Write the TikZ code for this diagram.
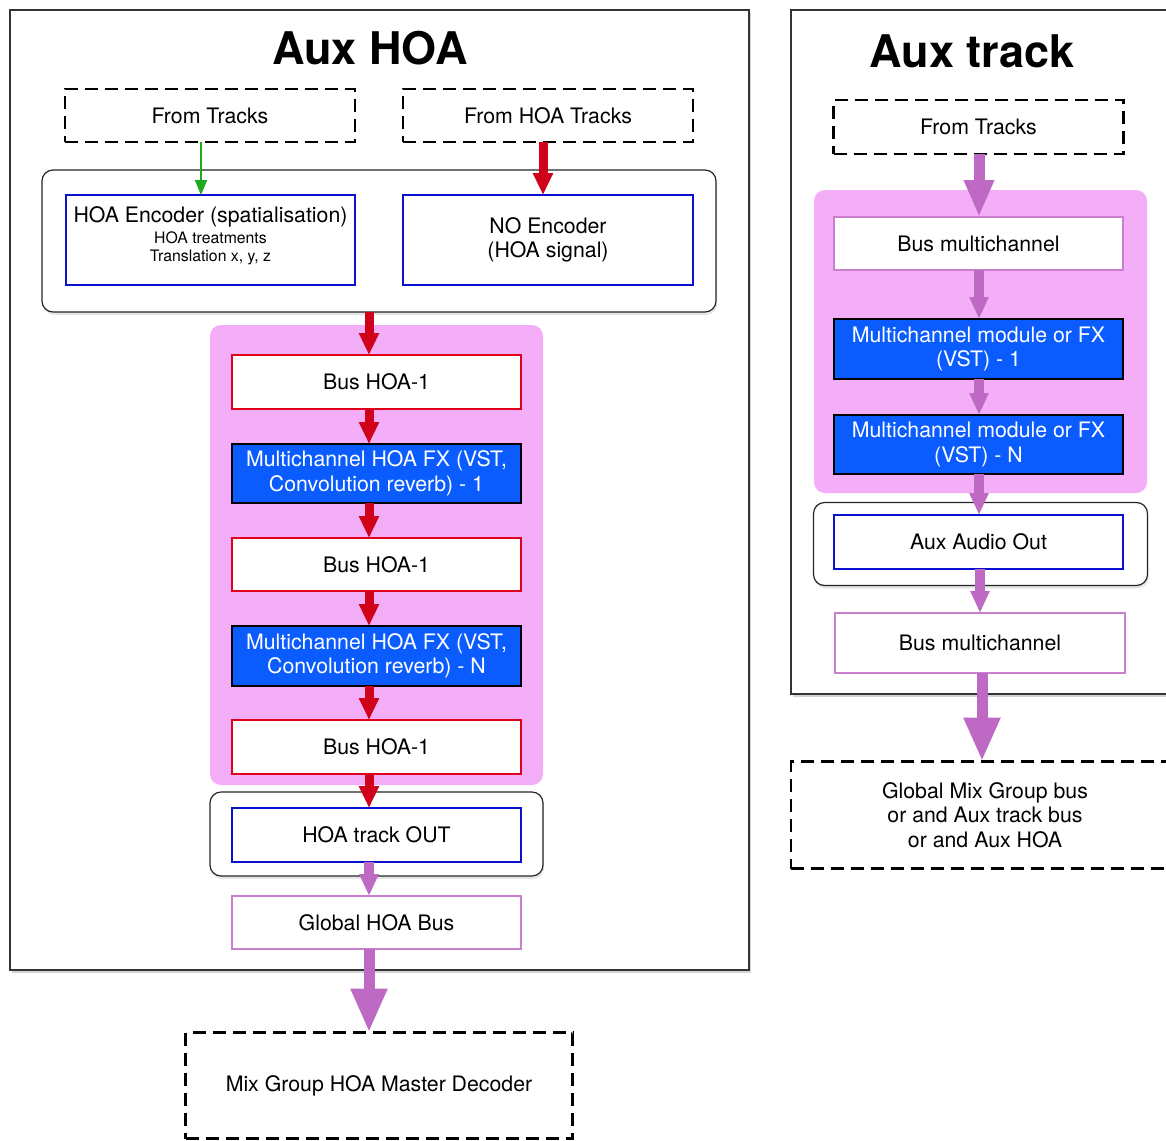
\documentclass[tikz,border=0pt]{standalone}
\usepackage{fontspec}
\setmainfont{TeX Gyre Heros}
\usetikzlibrary{arrows.meta,shadows}
\definecolor{pinkbg}{HTML}{F4AEF8}
\definecolor{fxblue}{HTML}{0A5CFF}
\definecolor{edgeblue}{HTML}{0A10D0}
\definecolor{busred}{HTML}{E0001B}
\definecolor{arrred}{HTML}{D0021B}
\definecolor{vbord}{HTML}{C880CF}
\definecolor{arrpurple}{HTML}{BE6AC4}
\definecolor{arrgreen}{HTML}{1EAA1E}
\begin{document}
\begin{tikzpicture}[x=1pt,y=-1pt,
  basetext/.style={font=\fontsize{21.3}{24.5}\selectfont, align=center, inner sep=0pt, outer sep=0pt},
  panel/.style={draw=black!80, line width=1.5pt, fill=white, inner sep=0pt, outer sep=0pt,
    drop shadow={shadow xshift=2pt, shadow yshift=-3pt, opacity=0.35}},
  grp/.style={draw=black!85, line width=1.2pt, fill=white, rounded corners=11pt, inner sep=0pt, outer sep=0pt,
    drop shadow={shadow xshift=1pt, shadow yshift=-3pt, opacity=0.2}},
  bgpink/.style={fill=pinkbg, rounded corners=11pt, inner sep=0pt, outer sep=0pt},
  dashbox/.style={basetext, draw=black, line width=2.5pt, dash pattern=on 13pt off 7pt},
  outbox/.style={basetext, draw=edgeblue, line width=2pt, fill=white},
  busbox/.style={basetext, draw=busred, line width=2pt, fill=white},
  fxbox/.style={basetext, draw=black, line width=2.2pt, fill=fxblue, text=white},
  vbox/.style={basetext, draw=vbord, line width=2.5pt, fill=white},
  titletext/.style={font=\fontsize{45}{50}\selectfont\bfseries, inner sep=0pt, anchor=base},
  redarr/.style={draw=arrred, line width=9pt, -{Triangle[width=19pt,length=22pt]}},
  greenarr/.style={draw=arrgreen, line width=2pt, -{Triangle[width=12pt,length=15pt]}},
  parr/.style={draw=arrpurple, line width=10pt, -{Triangle[width=18pt,length=22pt]}},
  bigparr/.style={draw=arrpurple, line width=11pt, -{Triangle[width=34pt,length=44pt]}},
  midparr/.style={draw=arrpurple, line width=11pt, -{Triangle[width=28pt,length=37pt]}}
]
\useasboundingbox (0,0) rectangle (1166,1140);
\clip (0,0) rectangle (1166,1140);

% ---------------- Left panel: Aux HOA ----------------
\node[panel, minimum width=739pt, minimum height=960pt] (lpanel) at (379.5,490) {};
\node[titletext] (ltitle) at (370,64) {Aux HOA};

\node[dashbox, minimum width=290pt, minimum height=53pt] (ft1) at (210,115.5) {From Tracks};
\node[dashbox, minimum width=290pt, minimum height=53pt] (ft2) at (548,115.5) {From HOA Tracks};

\node[grp, minimum width=674pt, minimum height=142pt] (c1) at (379,241) {};
\node[outbox, minimum width=289pt, minimum height=90pt] (enc) at (210.5,240)
  {HOA Encoder (spatialisation)\\[-3.5pt]{\fontsize{15.8}{19}\selectfont HOA treatments}\\[-6.5pt]{\fontsize{15.8}{19}\selectfont Translation x, y, z\rule[-12.5pt]{0pt}{1pt}}};
\node[outbox, minimum width=290pt, minimum height=90pt] (noenc) at (548,240) {NO Encoder\\(HOA signal)};

\node[bgpink, minimum width=333pt, minimum height=460pt] (pbg1) at (376.5,555) {};
\node[busbox, minimum width=289pt, minimum height=54pt] (bus1) at (376.5,382) {Bus HOA-1};
\node[fxbox, minimum width=289pt, minimum height=59pt] (fx1) at (376.5,473.5) {Multichannel HOA FX (VST,\\Convolution reverb) - 1};
\node[busbox, minimum width=289pt, minimum height=53pt] (bus2) at (376.5,564.5) {Bus HOA-1};
\node[fxbox, minimum width=289pt, minimum height=60pt] (fxN) at (376.5,656) {Multichannel HOA FX (VST,\\Convolution reverb) - N};
\node[busbox, minimum width=289pt, minimum height=54pt] (bus3) at (376.5,747) {Bus HOA-1};

\node[grp, minimum width=333pt, minimum height=84pt] (c2) at (376.5,834) {};
\node[outbox, minimum width=289pt, minimum height=54pt] (hoaout) at (376.5,835) {HOA track OUT};
\node[vbox, minimum width=289pt, minimum height=53pt] (ghb) at (376.5,922.5) {Global HOA Bus};

\node[dashbox, minimum width=387pt, minimum height=106pt] (mix) at (379,1085.5) {Mix Group HOA Master Decoder};

\coordinate (ax) at (369,0);
\coordinate (gx) at (201,0);
\coordinate (rx) at (543,0);
\draw[greenarr] (ft1.south -| gx) -- (enc.north -| gx);
\draw[redarr] (ft2.south -| rx) -- (noenc.north -| rx);
\draw[redarr] (c1.south -| ax) -- (bus1.north -| ax);
\draw[redarr] (bus1.south -| ax) -- (fx1.north -| ax);
\draw[redarr] (fx1.south -| ax) -- (bus2.north -| ax);
\draw[redarr] (bus2.south -| ax) -- (fxN.north -| ax);
\draw[redarr] (fxN.south -| ax) -- (bus3.north -| ax);
\draw[redarr] (bus3.south -| ax) -- (hoaout.north -| ax);
\draw[parr] (hoaout.south -| ax) -- (ghb.north -| ax);
\draw[bigparr] (ghb.south -| ax) -- (mix.north -| ax);

% ---------------- Right panel: Aux track ----------------
\node[panel, minimum width=389pt, minimum height=684pt] (rpanel) at (985.5,352) {};
\node[titletext] (rtitle) at (972,67) {Aux track};

\node[dashbox, minimum width=290pt, minimum height=54pt] (ft3) at (978.5,127) {From Tracks};
\node[bgpink, minimum width=333pt, minimum height=303pt] (pbg2) at (980.5,341.5) {};
\node[vbox, minimum width=289pt, minimum height=53pt] (bm1) at (978.5,243.5) {Bus multichannel};
\node[fxbox, minimum width=289pt, minimum height=60pt] (m1) at (978.5,349) {Multichannel module or FX\\(VST) - 1};
\node[fxbox, minimum width=289pt, minimum height=59pt] (mN) at (978.5,444.5) {Multichannel module or FX\\(VST) - N};

\node[grp, minimum width=334pt, minimum height=83pt] (c3) at (980.5,544) {};
\node[outbox, minimum width=289pt, minimum height=54pt] (aao) at (978.5,542) {Aux Audio Out};
\node[vbox, minimum width=290pt, minimum height=60pt] (bm2) at (980,643) {Bus multichannel};

\node[dashbox, minimum width=388pt, minimum height=107pt] (glob) at (985,815)
  {Global Mix Group bus\\or and Aux track bus\\or and Aux HOA};

\coordinate (bx) at (979,0);
\coordinate (cx) at (980,0);
\coordinate (dx) at (982,0);
\draw[midparr] (ft3.south -| bx) -- (bm1.north -| bx);
\draw[parr] (bm1.south -| bx) -- (m1.north -| bx);
\draw[parr] (m1.south -| bx) -- (mN.north -| bx);
\draw[parr] (mN.south -| bx) -- (aao.north -| bx);
\draw[parr] (aao.south -| cx) -- (bm2.north -| cx);
\draw[bigparr] (bm2.south -| dx) -- (glob.north -| dx);
\end{tikzpicture}
\end{document}
